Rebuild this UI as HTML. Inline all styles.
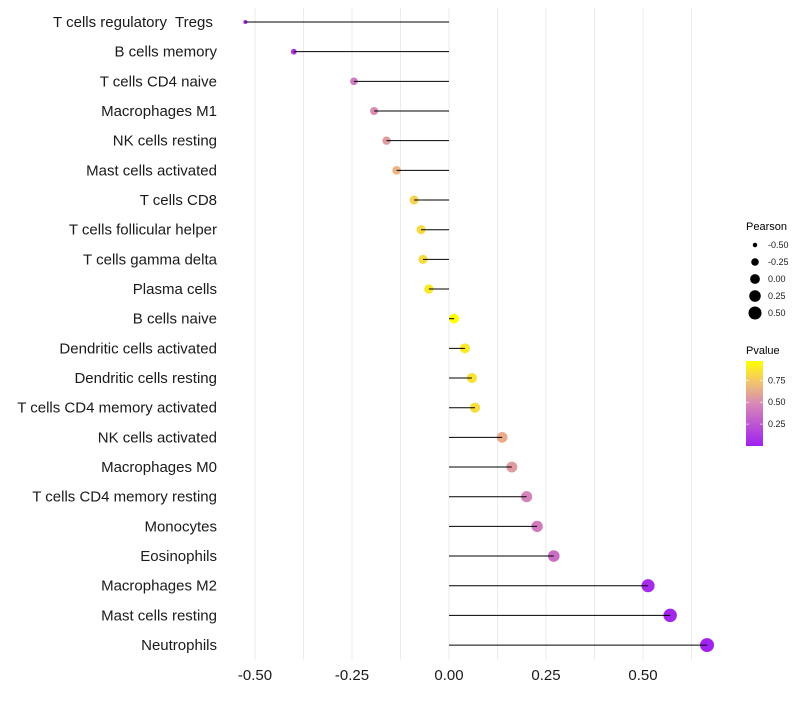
<!DOCTYPE html>
<html><head><meta charset="utf-8"><style>
body{margin:0;background:#fff}
svg text{font-family:"Liberation Sans",sans-serif;white-space:pre}
</style></head><body>
<svg id="chart" width="800" height="700" viewBox="0 0 800 700" xmlns="http://www.w3.org/2000/svg">
<g id="grid"></g><g id="marks"></g><g id="labels"></g><g id="legend"></g>
</svg>
<script>
const categories=["T cells regulatory  Tregs ","B cells memory","T cells CD4 naive","Macrophages M1","NK cells resting","Mast cells activated","T cells CD8","T cells follicular helper","T cells gamma delta","Plasma cells","B cells naive","Dendritic cells activated","Dendritic cells resting","T cells CD4 memory activated","NK cells activated","Macrophages M0","T cells CD4 memory resting","Monocytes","Eosinophils","Macrophages M2","Mast cells resting","Neutrophils"];
const pearson=[-0.525,-0.40,-0.245,-0.193,-0.161,-0.135,-0.09,-0.072,-0.067,-0.052,0.013,0.041,0.059,0.067,0.137,0.162,0.20,0.227,0.27,0.513,0.57,0.665];
const pvalue=[0.04,0.10,0.42,0.50,0.56,0.66,0.78,0.82,0.82,0.88,0.97,0.88,0.85,0.83,0.63,0.56,0.46,0.42,0.36,0.05,0.03,0.01];
const xTicks=[-0.5,-0.25,0,0.25,0.5];
const xTickLabels=["-0.50","-0.25","0.00","0.25","0.50"];
const sizeLegend=[-0.5,-0.25,0,0.25,0.5];
const colorLegend=[0.25,0.5,0.75];

const NS="http://www.w3.org/2000/svg";
const x=v=>449+v*388;
const y=i=>22+i*29.67;
const r=v=>Math.sqrt(Math.max(2,23.8+37.8*v));
function lerp(a,b,t){return a.map((c,i)=>Math.round(c+(b[i]-c)*t));}
const stops=[[0,[160,32,240]],[0.5,[216,137,182]],[0.75,[242,196,110]],[1,[255,255,0]]];
const vmin=0,vmax=0.97;
function col(p){let t=Math.max(0,Math.min(1,(p-vmin)/(vmax-vmin)));for(let k=1;k<stops.length;k++){if(t<=stops[k][0]){const s=stops[k-1],e=stops[k];const c=lerp(s[1],e[1],(t-s[0])/(e[0]-s[0]));return`rgb(${c})`;}}return"rgb(255,255,0)";}
function mk(tag,attrs,parent){const e=document.createElementNS(NS,tag);for(const k in attrs)e.setAttribute(k,attrs[k]);parent.appendChild(e);return e;}
const grid=document.getElementById('grid'),marks=document.getElementById('marks'),labels=document.getElementById('labels'),legend=document.getElementById('legend');
for(let v=-0.5;v<=0.63;v+=0.125){const l=mk('line',{x1:x(v),x2:x(v),y1:8,y2:660,stroke:'#ebebeb','stroke-width':1},grid);

}
categories.forEach((c,i)=>{
 const t=mk('text',{x:217,y:y(i)+5,'text-anchor':'end','font-size':15,fill:'#1a1a1a'},labels);t.textContent=c;
 
 
 const p=mk('circle',{cx:x(pearson[i]),cy:y(i),r:r(pearson[i]),fill:col(pvalue[i])},marks);
 
 
 const s=mk('line',{x1:x(0),x2:x(pearson[i]),y1:y(i),y2:y(i),stroke:'#000','stroke-width':1},marks);
 
 
});
xTicks.forEach((v,i)=>{const t=mk('text',{x:x(v),y:680,'text-anchor':'middle','font-size':15,fill:'#1a1a1a'},labels);t.textContent=xTickLabels[i];

});
let tt=mk('text',{x:746,y:230,'font-size':11,fill:'#000'},legend);tt.textContent='Pearson';


sizeLegend.forEach((v,i)=>{const cy=245+i*17;const c=mk('circle',{cx:755,cy:cy,r:r(v),fill:'#000'},legend);


const t=mk('text',{x:768,y:cy+3,'font-size':9,fill:'#1a1a1a'},legend);t.textContent=v.toFixed(2);

});
tt=mk('text',{x:746,y:354,'font-size':11,fill:'#000'},legend);tt.textContent='Pvalue';


const defs=mk('defs',{},legend);const g=mk('linearGradient',{id:'pg',x1:0,y1:1,x2:0,y2:0},defs);
stops.forEach(s=>mk('stop',{offset:s[0],'stop-color':`rgb(${s[1]})`},g));
const by=446,bh=85;
const bar=mk('rect',{x:746,y:by-bh,width:17,height:bh,fill:'url(#pg)'},legend);


colorLegend.forEach(v=>{const yy=by-(v-vmin)/(vmax-vmin)*bh;
mk('line',{x1:746,x2:749,y1:yy,y2:yy,stroke:'#fff','stroke-width':0.6},legend);
mk('line',{x1:760,x2:763,y1:yy,y2:yy,stroke:'#fff','stroke-width':0.6},legend);
const t=mk('text',{x:768,y:yy+3,'font-size':9,fill:'#1a1a1a'},legend);t.textContent=v.toFixed(2);

});
</script>
</body></html>
